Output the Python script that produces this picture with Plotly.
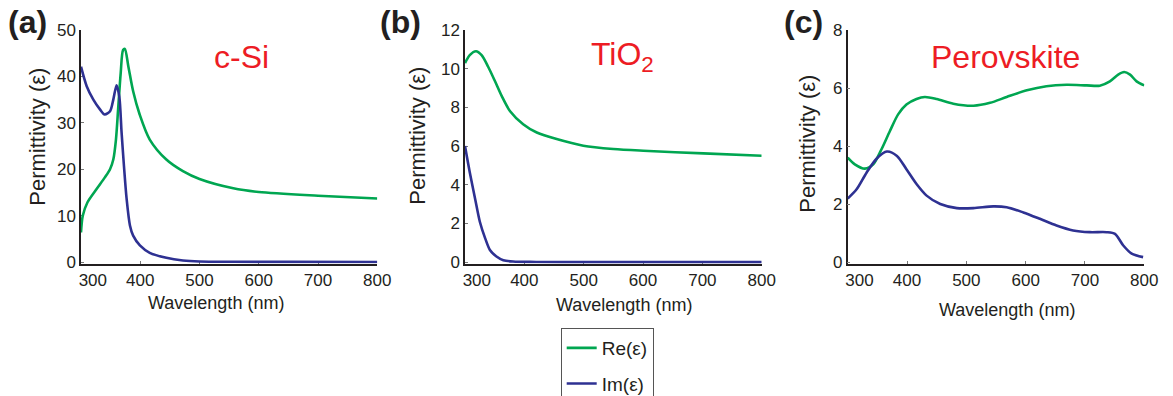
import plotly.graph_objects as go

W, H = 1173, 396

# ---------------- data ----------------
# (a) c-Si
si_re_wl = [300, 303, 311, 326, 340, 349, 354.5, 359, 363, 367, 371, 374, 380, 388, 399, 416, 444, 472, 500, 557, 600, 700, 800]
si_re = [6.4, 10.0, 12.9, 15.7, 18.2, 20.0, 22.1, 26.4, 33.6, 40.7, 45.7, 45.9, 42.1, 36.8, 31.8, 26.4, 22.1, 19.6, 17.9, 15.9, 15.1, 14.3, 13.7]
si_im_wl = [300, 309.6, 320.8, 332, 340, 349, 354.5, 360, 364.6, 368.5, 372.5, 377, 382.6, 388, 399.4, 416, 444, 472, 500, 557, 650, 800]
si_im = [42.1, 37.9, 35.0, 32.9, 31.8, 32.5, 35.0, 38.1, 35.7, 27.9, 20.7, 13.6, 7.9, 5.7, 3.6, 2.0, 0.93, 0.36, 0.14, 0.07, 0.04, 0.02]

# (b) TiO2
ti_re_wl = [300, 308, 318.5, 328, 339, 350.6, 362, 376, 398, 421, 454.5, 499.4, 550, 600.6, 701.7, 800]
ti_re = [10.29, 10.7, 10.9, 10.7, 10.1, 9.35, 8.58, 7.8, 7.13, 6.7, 6.36, 6.02, 5.85, 5.76, 5.62, 5.5]
ti_im_wl = [300, 308, 317, 325, 334, 342, 353, 364.6, 381, 420, 500, 600, 700, 800]
ti_im = [6.0, 4.65, 3.28, 2.09, 1.23, 0.63, 0.29, 0.1, 0.03, 0.01, 0.0, 0.0, 0.0, 0.0]

# (c) Perovskite
pv_re_wl = [300, 312, 329, 343, 357, 371, 385, 399, 416, 430, 450, 478, 512, 540, 568, 602, 635, 669, 703, 725, 742, 756, 766, 776, 787, 800]
pv_re = [3.6, 3.37, 3.22, 3.37, 3.89, 4.51, 5.09, 5.43, 5.62, 5.69, 5.62, 5.46, 5.39, 5.49, 5.69, 5.92, 6.06, 6.11, 6.09, 6.08, 6.23, 6.46, 6.55, 6.46, 6.23, 6.09]
pv_im_wl = [300, 315, 332, 349, 366, 383, 399, 416, 433, 456, 484, 512, 545.5, 568, 596, 624, 652, 680, 708, 736.5, 750.6, 764.6, 778.7, 798]
pv_im = [2.19, 2.51, 3.09, 3.57, 3.81, 3.66, 3.2, 2.69, 2.29, 2.0, 1.86, 1.86, 1.92, 1.89, 1.71, 1.49, 1.26, 1.09, 1.03, 1.03, 0.97, 0.57, 0.29, 0.17]

x_tickvals = [300, 400, 500, 600, 700, 800]
x_ticktext = ["\u00a0" * 5 + "300", "400", "500", "600", "700", "800"]
panel_labels = ["(a)", "(b)", "(c)"]
materials = ["c-Si", "TiO<sub>2</sub>", "Perovskite"]
y_ranges = [[-0.3, 50], [-0.07, 12], [-0.05, 8]]
y_dticks = [10, 2, 2]

GREEN = "#00A651"
BLUE = "#2E3192"
DARK = "#231F20"
RED = "#ED1C24"
FONT = "Liberation Sans, Arial, sans-serif"

def fx(px):
    return px / W

def fy(py):
    return 1 - py / H

# plot area pixel boxes
x_boxes = [(81, 377.3), (465, 761.7), (847.7, 1144.3)]
y_box = (30, 263.5)

fig = go.Figure()

series = [
    (si_re_wl, si_re, si_im_wl, si_im),
    (ti_re_wl, ti_re, ti_im_wl, ti_im),
    (pv_re_wl, pv_re, pv_im_wl, pv_im),
]

for i, (rw, rv, iw, iv) in enumerate(series):
    xa = "x" if i == 0 else f"x{i+1}"
    ya = "y" if i == 0 else f"y{i+1}"
    fig.add_trace(go.Scatter(x=rw, y=rv, mode="lines", name="Re(\u03b5)",
                             line=dict(color=GREEN, width=2.6, shape="spline", smoothing=0.8),
                             xaxis=xa, yaxis=ya, showlegend=(i == 0), legendgroup="re"))
    fig.add_trace(go.Scatter(x=iw, y=iv, mode="lines", name="Im(\u03b5)",
                             line=dict(color=BLUE, width=2.6, shape="spline", smoothing=0.8),
                             xaxis=xa, yaxis=ya, showlegend=(i == 0), legendgroup="im"))

layout = dict(
    width=W, height=H,
    margin=dict(l=0, r=0, t=0, b=0, autoexpand=False),
    paper_bgcolor="white", plot_bgcolor="white",
    font=dict(family=FONT, color=DARK, size=17),
    legend=dict(x=fx(560.7), y=fy(328), xanchor="left", yanchor="top",
                bordercolor="#555555", borderwidth=1, bgcolor="white",
                font=dict(family=FONT, size=19, color=DARK),
                tracegroupgap=8, traceorder="grouped", itemwidth=30),
)

for i in range(3):
    sx = "" if i == 0 else str(i + 1)
    x0, x1 = x_boxes[i]
    layout[f"xaxis{sx}"] = dict(
        domain=[fx(x0), fx(x1)], range=[300, 800], anchor=f"y{sx}",
        tickvals=x_tickvals, ticktext=x_ticktext,
        ticks="inside", ticklen=3, tickwidth=1, tickcolor="#777777",
        showline=True, linecolor=DARK, linewidth=1.5, showgrid=False, zeroline=False,
        tickfont=dict(family=FONT, size=17, color=DARK), layer="below traces",
    )
    layout[f"yaxis{sx}"] = dict(
        domain=[fy(y_box[1]), fy(y_box[0])], range=y_ranges[i], anchor=f"x{sx}",
        dtick=y_dticks[i], tick0=0,
        ticks="inside", ticklen=3, tickwidth=1, tickcolor="#777777",
        showline=True, linecolor=DARK, linewidth=1.5, showgrid=False, zeroline=False,
        tickfont=dict(family=FONT, size=17, color=DARK), layer="below traces",
    )

fig.update_layout(**layout)

annotations = []
panel_pos = [(27, 22), (400, 22), (803, 22)]
mat_pos = [(241, 57), (622, 57), (1005, 57)]
xt_pos = [(216, 303), (624, 305), (1007, 310)]
yt_pos = [(36.7, 137), (416.7, 136), (806.7, 144)]
for i in range(3):
    annotations.append(dict(x=fx(panel_pos[i][0]), y=fy(panel_pos[i][1]), xref="paper", yref="paper",
                            text=f"<b>{panel_labels[i]}</b>", showarrow=False,
                            font=dict(family=FONT, size=32, color=DARK), xanchor="center", yanchor="middle"))
    annotations.append(dict(x=fx(mat_pos[i][0]), y=fy(mat_pos[i][1]), xref="paper", yref="paper",
                            text=materials[i], showarrow=False,
                            font=dict(family=FONT, size=32, color=RED), xanchor="center", yanchor="middle"))
    annotations.append(dict(x=fx(xt_pos[i][0]), y=fy(xt_pos[i][1]), xref="paper", yref="paper",
                            text="Wavelength (nm)", showarrow=False,
                            font=dict(family=FONT, size=18, color=DARK), xanchor="center", yanchor="middle"))
    annotations.append(dict(x=fx(yt_pos[i][0]), y=fy(yt_pos[i][1]), xref="paper", yref="paper",
                            text="Permittivity (\u03b5)", showarrow=False, textangle=-90,
                            font=dict(family=FONT, size=22, color=DARK), xanchor="center", yanchor="middle"))

fig.update_layout(annotations=annotations)

fig.write_html("out.html", config={"displayModeBar": False},
               post_script="document.body.style.margin='0';document.body.style.overflow='hidden';")
